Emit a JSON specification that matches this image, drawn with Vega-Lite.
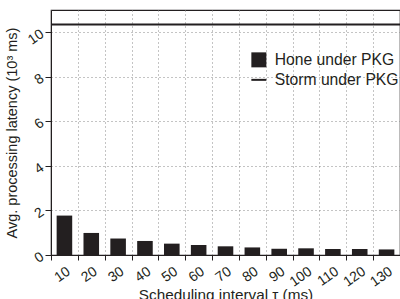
{
  "$schema": "https://vega.github.io/schema/vega-lite/v6.json",
  "width": 349,
  "height": 245,
  "autosize": "none",
  "padding": {"left": 51, "top": 10, "right": 0, "bottom": 44},
  "config": {
    "font": "Liberation Sans",
    "view": {"stroke": "#231f20", "strokeWidth": 1.2},
    "axis": {
      "labelFont": "Liberation Sans",
      "titleFont": "Liberation Sans",
      "labelFontSize": 14,
      "titleFontSize": 15.3,
      "titleFontWeight": "normal",
      "labelColor": "#231f20",
      "titleColor": "#231f20",
      "domainColor": "#231f20",
      "tickColor": "#231f20",
      "gridColor": "#888888",
      "gridDash": [1, 3],
      "gridWidth": 1
    }
  },
  "layer": [
    {
      "data": {
        "values": [
          {"interval": "10", "latency": 1.77, "series": "Hone under PKG"},
          {"interval": "20", "latency": 0.99, "series": "Hone under PKG"},
          {"interval": "30", "latency": 0.74, "series": "Hone under PKG"},
          {"interval": "40", "latency": 0.63, "series": "Hone under PKG"},
          {"interval": "50", "latency": 0.51, "series": "Hone under PKG"},
          {"interval": "60", "latency": 0.45, "series": "Hone under PKG"},
          {"interval": "70", "latency": 0.39, "series": "Hone under PKG"},
          {"interval": "80", "latency": 0.34, "series": "Hone under PKG"},
          {"interval": "90", "latency": 0.28, "series": "Hone under PKG"},
          {"interval": "100", "latency": 0.30, "series": "Hone under PKG"},
          {"interval": "110", "latency": 0.27, "series": "Hone under PKG"},
          {"interval": "120", "latency": 0.27, "series": "Hone under PKG"},
          {"interval": "130", "latency": 0.25, "series": "Hone under PKG"}
        ]
      },
      "mark": {"type": "bar", "width": {"band": 0.58}},
      "encoding": {
        "x": {
          "field": "interval",
          "type": "ordinal",
          "sort": null,
          "scale": {"paddingInner": 0, "paddingOuter": 0},
          "axis": {
            "title": "Scheduling interval τ (ms)",
            "titlePadding": -1,
            "labelAngle": -35,
            "labelAlign": "right",
            "labelBaseline": "top",
            "labelPadding": 4,
            "tickBand": "extent",
            "tickSize": 5,
            "grid": true
          }
        },
        "y": {
          "field": "latency",
          "type": "quantitative",
          "scale": {"domain": [0, 11], "nice": false},
          "axis": {
            "title": "Avg. processing latency (10³ ms)",
            "titleFontSize": 14.5,
            "values": [0, 1, 2, 3, 4, 5, 6, 7, 8, 9, 10, 11],
            "labelExpr": "datum.value % 2 == 0 ? datum.label : ''",
            "labelAngle": -35,
            "labelAlign": "right",
            "labelBaseline": "middle",
            "labelPadding": 3,
            "tickSize": 6,
            "titlePadding": 6,
            "grid": true,
            "gridOpacity": {"condition": {"test": "datum.value % 2 == 0 && datum.value > 0 && datum.value < 11", "value": 1}, "value": 0}
          }
        },
        "color": {
          "field": "series",
          "type": "nominal",
          "scale": {"domain": ["Hone under PKG", "Storm under PKG"], "range": ["#231f20", "#231f20"]},
          "legend": {
            "title": null,
            "orient": "none",
            "legendX": 200,
            "legendY": 42,
            "labelFont": "Liberation Sans",
            "labelFontSize": 15.7,
            "labelColor": "#231f20",
            "symbolSize": 225,
            "rowPadding": 3,
            "labelOffset": 8,
            "encode": {
              "symbols": {
                "update": {
                  "shape": {"signal": "datum.value === 'Storm under PKG' ? 'stroke' : 'square'"},
                  "strokeWidth": {"signal": "datum.value === 'Storm under PKG' ? 2 : 0"},
                  "stroke": {"value": "#231f20"},
                  "fill": {"value": "#231f20"},
                  "opacity": {"value": 1}
                }
              }
            }
          }
        }
      }
    },
    {
      "data": {"values": [{"latency": 10.35, "series": "Storm under PKG"}]},
      "mark": {"type": "rule", "strokeWidth": 2},
      "encoding": {
        "y": {"field": "latency", "type": "quantitative"},
        "color": {"field": "series", "type": "nominal"}
      }
    }
  ]
}
